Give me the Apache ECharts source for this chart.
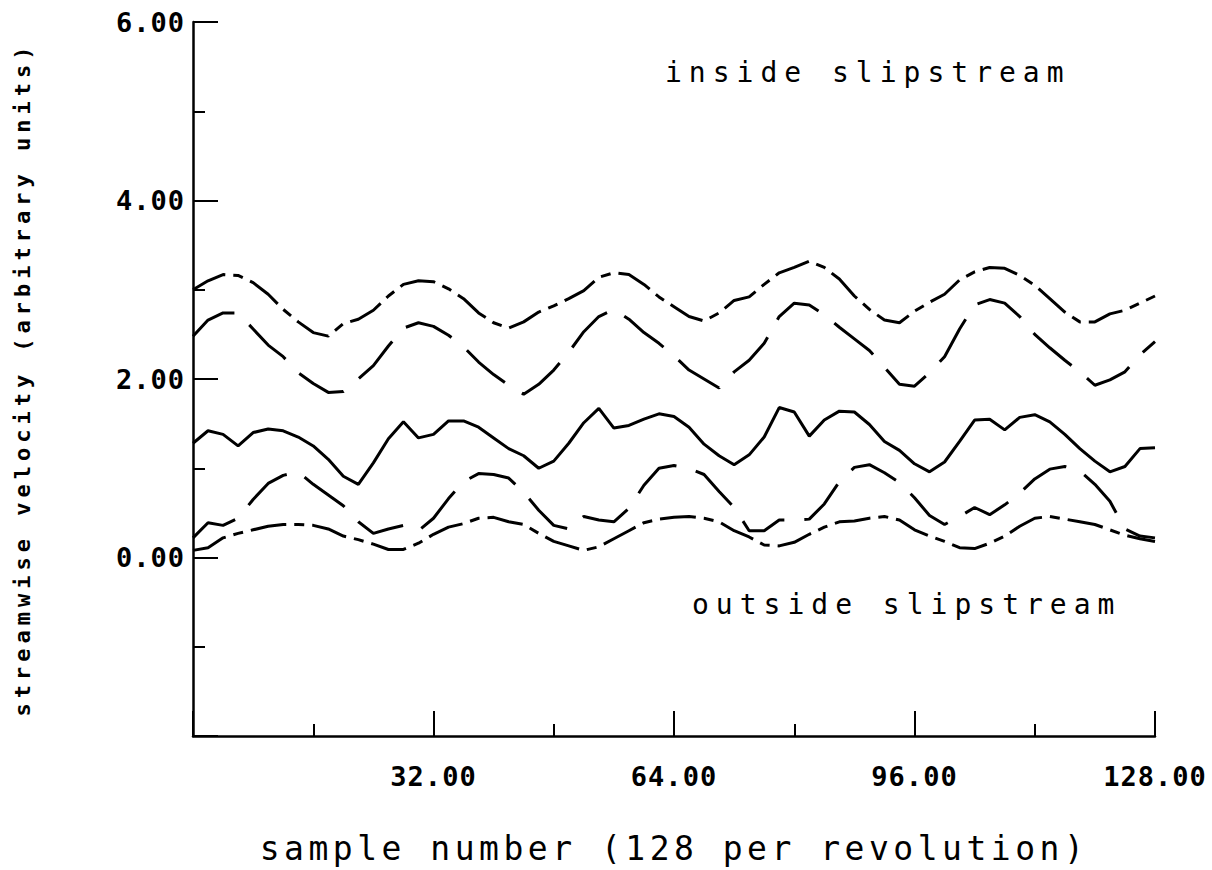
<!DOCTYPE html>
<html>
<head>
<meta charset="utf-8">
<title>streamwise velocity</title>
<script src="https://cdn.jsdelivr.net/npm/echarts@6.0.0/dist/echarts.min.js"></script>
<style>
html, body { margin: 0; padding: 0; background: #fff; }
#main { width: 1212px; height: 870px; }
/* plotter lettering is widely spaced: svg text, picked by font size */
#main text[style*="27px"] { letter-spacing: 1px; }
#main text[style*="22px"] { letter-spacing: 5px; }
#main text[style*="33px"] { letter-spacing: 4.5px; }
#main text[style*="28px"] { letter-spacing: 7px; }
</style>
</head>
<body>
<div id="main"></div>
<script>
// sample number, every 2nd sample
var samples = [0, 2, 4, 6, 8, 10, 12, 14, 16, 18, 20, 22, 24, 26, 28, 30, 32,
    34, 36, 38, 40, 42, 44, 46, 48, 50, 52, 54, 56, 58, 60, 62, 64,
    66, 68, 70, 72, 74, 76, 78, 80, 82, 84, 86, 88, 90, 92, 94, 96,
    98, 100, 102, 104, 106, 108, 110, 112, 114, 116, 118, 120, 122, 124, 126, 128];

// inside slipstream, dash-dot (top)
var insideDashDot = [3.00, 3.10, 3.17, 3.16, 3.08, 2.95, 2.78, 2.64, 2.52, 2.48, 2.62, 2.67, 2.77, 2.93, 3.06, 3.10, 3.09,
    3.01, 2.90, 2.74, 2.63, 2.57, 2.64, 2.75, 2.82, 2.90, 2.99, 3.14, 3.19, 3.17, 3.06, 2.92, 2.81,
    2.70, 2.65, 2.74, 2.88, 2.92, 3.06, 3.19, 3.25, 3.32, 3.25, 3.12, 2.93, 2.78, 2.66, 2.63, 2.76,
    2.86, 2.95, 3.11, 3.20, 3.25, 3.24, 3.16, 3.05, 2.90, 2.75, 2.64, 2.64, 2.73, 2.77, 2.85, 2.93];

// inside slipstream, long dash
var insideDash = [2.48, 2.66, 2.74, 2.74, 2.56, 2.38, 2.25, 2.07, 1.95, 1.85, 1.86, 2.00, 2.15, 2.37, 2.57, 2.63, 2.59,
    2.49, 2.36, 2.19, 2.05, 1.93, 1.83, 1.94, 2.10, 2.30, 2.53, 2.70, 2.78, 2.67, 2.52, 2.40, 2.26,
    2.10, 2.00, 1.90, 2.08, 2.21, 2.40, 2.70, 2.85, 2.83, 2.72, 2.58, 2.45, 2.32, 2.13, 1.94, 1.92,
    2.07, 2.25, 2.56, 2.83, 2.89, 2.85, 2.70, 2.50, 2.35, 2.21, 2.08, 1.93, 1.99, 2.08, 2.27, 2.42];

// solid, middle
var middleSolid = [1.28, 1.42, 1.38, 1.25, 1.40, 1.44, 1.42, 1.35, 1.25, 1.10, 0.91, 0.82, 1.06, 1.33, 1.52, 1.34, 1.38,
    1.53, 1.53, 1.46, 1.34, 1.22, 1.14, 1.00, 1.08, 1.28, 1.51, 1.67, 1.45, 1.48, 1.55, 1.61, 1.58,
    1.46, 1.27, 1.14, 1.04, 1.15, 1.35, 1.68, 1.63, 1.36, 1.54, 1.64, 1.63, 1.49, 1.30, 1.20, 1.05,
    0.96, 1.07, 1.30, 1.54, 1.55, 1.43, 1.57, 1.60, 1.52, 1.38, 1.22, 1.08, 0.96, 1.02, 1.22, 1.23];

// outside slipstream, long dash
var outsideDash = [0.22, 0.39, 0.36, 0.44, 0.65, 0.83, 0.92, 0.96, 0.82, 0.70, 0.58, 0.40, 0.27, 0.32, 0.36, 0.30, 0.44,
    0.66, 0.85, 0.94, 0.93, 0.89, 0.73, 0.53, 0.36, 0.32, 0.46, 0.42, 0.40, 0.55, 0.81, 1.00, 1.03,
    1.00, 0.93, 0.74, 0.56, 0.30, 0.30, 0.42, 0.42, 0.43, 0.60, 0.85, 1.01, 1.04, 0.95, 0.84, 0.67,
    0.47, 0.37, 0.46, 0.56, 0.48, 0.59, 0.72, 0.88, 0.99, 1.02, 0.97, 0.82, 0.63, 0.32, 0.24, 0.22];

// outside slipstream, dash-dot (bottom)
var outsideDashDot = [0.08, 0.11, 0.22, 0.27, 0.31, 0.35, 0.37, 0.37, 0.36, 0.32, 0.24, 0.20, 0.15, 0.09, 0.09, 0.16, 0.26,
    0.34, 0.38, 0.44, 0.45, 0.40, 0.37, 0.27, 0.18, 0.13, 0.08, 0.12, 0.21, 0.30, 0.39, 0.43, 0.45,
    0.46, 0.44, 0.40, 0.30, 0.23, 0.14, 0.13, 0.17, 0.26, 0.34, 0.40, 0.41, 0.44, 0.46, 0.42, 0.31,
    0.24, 0.18, 0.11, 0.10, 0.16, 0.24, 0.35, 0.44, 0.46, 0.43, 0.40, 0.37, 0.31, 0.25, 0.21, 0.18];

var xTickLabels = ['32.00', '64.00', '96.00', '128.00'];
var yTickLabels = ['0.00', '2.00', '4.00', '6.00'];

var FONT = 'DejaVu Sans Mono';

function pairs(ys) {
    return samples.map(function (x, i) { return [x, ys[i]]; });
}

function line(name, ys, dash) {
    return {
        name: name,
        type: 'line',
        data: pairs(ys),
        symbol: 'none',
        silent: true,
        lineStyle: { color: '#000', width: 3, type: dash }
    };
}

var myChart = echarts.init(document.getElementById('main'), null, { renderer: 'svg' });

myChart.setOption({
    backgroundColor: '#fff',
    animation: false,
    grid: {
        left: 193, right: 57, top: 22, bottom: 134,
        containLabel: false,
        outerBoundsMode: 'none'
    },
    xAxis: {
        type: 'value',
        min: 0, max: 128, interval: 32,
        name: 'sample number (128 per revolution)',
        nameLocation: 'middle',
        nameGap: 96,
        nameTextStyle: { fontFamily: FONT, fontSize: 33, color: '#000' },
        axisLine: { onZero: false, lineStyle: { color: '#000', width: 2.5 } },
        axisTick: { inside: true, length: 25, lineStyle: { color: '#000', width: 2 } },
        minorTick: { show: true, splitNumber: 2, length: 12, lineStyle: { color: '#000', width: 2 } },
        splitLine: { show: false },
        axisLabel: {
            margin: 27,
            fontFamily: FONT, fontSize: 27, fontWeight: 'bold', color: '#000',
            formatter: function (v) {
                var s = v.toFixed(2);
                return xTickLabels.indexOf(s) >= 0 ? s : '';
            }
        }
    },
    yAxis: {
        type: 'value',
        min: -2, max: 6, interval: 2,
        name: 'streamwise velocity (arbitrary units)',
        nameLocation: 'middle',
        nameRotate: 90,
        nameGap: 160,
        nameTextStyle: { fontFamily: FONT, fontSize: 22, fontWeight: 'bold', color: '#000' },
        axisLine: { onZero: false, lineStyle: { color: '#000', width: 2.5 } },
        axisTick: { inside: true, length: 25, lineStyle: { color: '#000', width: 2 } },
        minorTick: { show: true, splitNumber: 2, length: 12, lineStyle: { color: '#000', width: 2 } },
        splitLine: { show: false },
        axisLabel: {
            margin: 8,
            fontFamily: FONT, fontSize: 27, fontWeight: 'bold', color: '#000',
            formatter: function (v) {
                var s = v.toFixed(2);
                return yTickLabels.indexOf(s) >= 0 ? s : '';
            }
        }
    },
    series: [
        line('inside dash-dot', insideDashDot, [36, 8, 10, 8]),
        line('inside dash', insideDash, [50, 20]),
        line('middle', middleSolid, 'solid'),
        line('outside dash', outsideDash, [50, 20]),
        line('outside dash-dot', outsideDashDot, [36, 8, 10, 8])
    ],
    graphic: [
        {
            type: 'text', x: 665, y: 72, silent: true,
            style: {
                text: 'inside slipstream', fill: '#000',
                font: '28px ' + FONT,
                textAlign: 'left', textVerticalAlign: 'middle'
            }
        },
        {
            type: 'text', x: 692, y: 604, silent: true,
            style: {
                text: 'outside slipstream', fill: '#000',
                font: '28px ' + FONT,
                textAlign: 'left', textVerticalAlign: 'middle'
            }
        }
    ]
});
</script>
</body>
</html>
